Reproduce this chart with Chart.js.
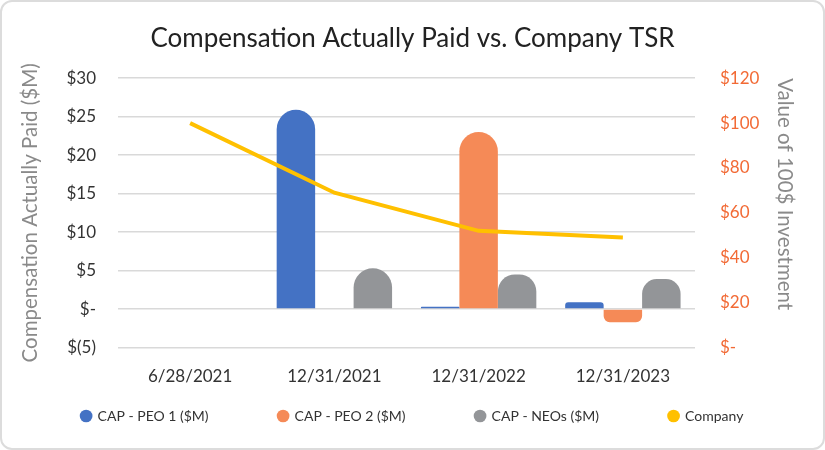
<!DOCTYPE html>
<html>
<head>
<meta charset="utf-8">
<script src="https://cdn.jsdelivr.net/npm/chart.js@4"></script>
<style>
  html, body { margin: 0; padding: 0; background: #fff; }
  #card {
    position: absolute; left: 0; top: 0;
    width: 821px; height: 446px;
    border: 2px solid #dcdcdc; border-radius: 12px;
    overflow: hidden;
  }
  canvas { display: block; }
</style>
</head>
<body>
<div id="card"><canvas id="capChart" width="821" height="446"></canvas></div>
<script>
// chart data
const periods = ['6/28/2021', '12/31/2021', '12/31/2022', '12/31/2023'];
const capPeo1 = [null, 25.9, 0.3, 0.9];
const capPeo2 = [null, null, 23.0, -1.7];
const capNeos = [null, 5.3, 4.5, 3.9];
const companyTsr = [100, 69, 52, 49];

const leftTicks = [-5, 0, 5, 10, 15, 20, 25, 30];
const rightTicks = [0, 20, 40, 60, 80, 100, 120];

const FONT = 'Lato, "Open Sans", sans-serif';

function money(v) {
  if (v === 0) return '$-';
  if (v < 0) return '$(' + Math.abs(v) + ')';
  return '$' + v;
}

const barStyle = {
  borderRadius: 20,
  borderSkipped: 'start',
  barPercentage: 1.0,
  categoryPercentage: 0.8,
  yAxisID: 'y',
};

// legend uses wide horizontal padding; keep its box short and pull it up
const legendSpacing = {
  id: 'legendSpacing',
  beforeInit(chart) {
    const fit = chart.legend.fit;
    chart.legend.fit = function () {
      fit.bind(chart.legend)();
      this.height = 36;
    };
  },
  afterLayout(chart) {
    chart.legend.top -= chart.legend.options.labels.padding - 11;
  },
};

const ctx = document.getElementById('capChart').getContext('2d');
const capChart = new Chart(ctx, {
  type: 'bar',
  data: {
    labels: periods,
    datasets: [
      { label: 'CAP - PEO 1 ($M)', data: capPeo1, backgroundColor: '#4472C4', order: 2, ...barStyle },
      { label: 'CAP - PEO 2 ($M)', data: capPeo2, backgroundColor: '#F58A57', order: 2, ...barStyle },
      { label: 'CAP - NEOs ($M)', data: capNeos, backgroundColor: '#939598', order: 2, ...barStyle },
      {
        type: 'line',
        label: 'Company',
        data: companyTsr,
        borderColor: '#FFC000',
        backgroundColor: '#FFC000',
        borderWidth: 4,
        pointRadius: 0,
        tension: 0,
        yAxisID: 'y1',
        order: 1,
      },
    ],
  },
  plugins: [legendSpacing],
  options: {
    responsive: false,
    animation: false,
    layout: { padding: { left: 0, right: 0, top: 0, bottom: 14 } },
    plugins: {
      title: {
        display: true,
        text: 'Compensation Actually Paid vs. Company TSR',
        color: '#222',
        font: { family: FONT, size: 26, weight: 'normal' },
        padding: { top: 21, bottom: 24 },
      },
      legend: {
        position: 'bottom',
        labels: {
          usePointStyle: true,
          pointStyle: 'circle',
          boxWidth: 9,
          boxHeight: 9,
          padding: 70,
          color: '#333',
          font: { family: FONT, size: 14 },
          generateLabels(chart) {
            return chart.data.datasets.map((ds, i) => ({
              text: ds.label,
              fillStyle: ds.backgroundColor,
              strokeStyle: ds.backgroundColor,
              lineWidth: 0,
              pointStyle: 'circle',
              datasetIndex: i,
              fontColor: '#333',
            }));
          },
        },
      },
      tooltip: { enabled: false },
    },
    scales: {
      x: {
        grid: { display: false },
        border: { display: false },
        ticks: { color: '#333', font: { family: FONT, size: 17 }, padding: 11 },
      },
      y: {
        position: 'left',
        min: -5,
        max: 30,
        afterBuildTicks(scale) { scale.ticks = leftTicks.map((v) => ({ value: v })); },
        afterFit(scale) { scale.width = 116; },
        grid: { color: '#d9d9d9', lineWidth: 1.5, drawTicks: false },
        border: { display: false },
        ticks: { color: '#333', font: { family: FONT, size: 17 }, padding: 22, autoSkip: false, callback: money },
        title: {
          display: true,
          text: 'Compensation Actually Paid ($M)',
          color: '#8a8a8a',
          font: { family: FONT, size: 20.5 },
          padding: { top: 16, bottom: 0 },
        },
      },
      y1: {
        position: 'right',
        min: 0,
        max: 120,
        afterBuildTicks(scale) { scale.ticks = rightTicks.map((v) => ({ value: v })); },
        afterFit(scale) { scale.width = 128; },
        grid: { display: false, drawTicks: false },
        border: { display: false },
        ticks: { color: '#F26A35', font: { family: FONT, size: 17 }, padding: 25, autoSkip: false, callback: money },
        title: {
          display: true,
          text: 'Value of 100$ Investment',
          align: 'end',
          color: '#8a8a8a',
          font: { family: FONT, size: 20.5 },
          padding: { top: 26, bottom: 0 },
        },
      },
    },
  },
});
</script>
</body>
</html>
